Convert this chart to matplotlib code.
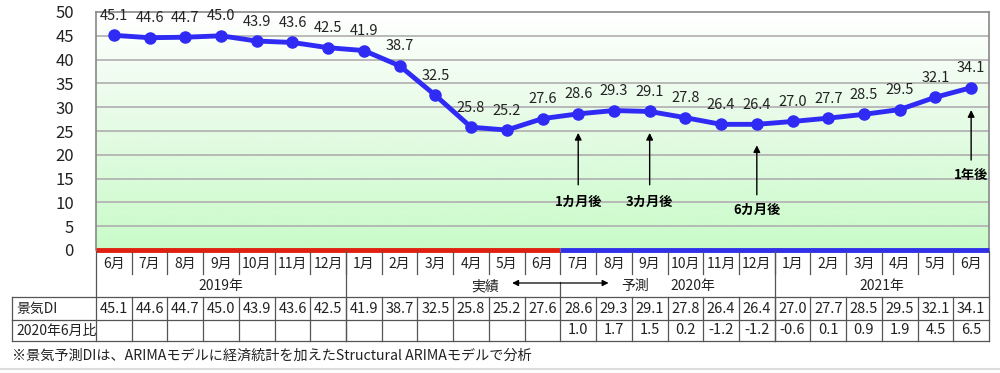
import numpy as np
import matplotlib
matplotlib.use('Agg')
import matplotlib.pyplot as plt
from matplotlib.colors import LinearSegmentedColormap

plt.rcParams['font.family'] = ['Noto Sans CJK JP', 'DejaVu Sans']

months = ['6月', '7月', '8月', '9月', '10月', '11月', '12月',
          '1月', '2月', '3月', '4月', '5月', '6月', '7月', '8月', '9月', '10月', '11月', '12月',
          '1月', '2月', '3月', '4月', '5月', '6月']
di = [45.1, 44.6, 44.7, 45.0, 43.9, 43.6, 42.5,
      41.9, 38.7, 32.5, 25.8, 25.2, 27.6, 28.6, 29.3, 29.1, 27.8, 26.4, 26.4,
      27.0, 27.7, 28.5, 29.5, 32.1, 34.1]
diff = [None] * 13 + [1.0, 1.7, 1.5, 0.2, -1.2, -1.2, -0.6, 0.1, 0.9, 1.9, 4.5, 6.5]
years = ['2019年', '2020年', '2021年']
notes = [(13, '1カ月後'), (15, '3カ月後'), (18, '6カ月後'), (24, '1年後')]
n_actual = 13  # 2019/6 .. 2020/6 are actual values

x = np.arange(len(di))
line_blue = '#2f2bf5'
grid_c = '#b4b4b4'
edge_c = '#555555'

fig = plt.figure(figsize=(10, 3.73), dpi=100)
ax = fig.add_axes([0.096, 1 - 250 / 373, 0.893, 238 / 373])

# gradient background
cmap = LinearSegmentedColormap.from_list('g', ['#c9fbc9', '#e4fbe4', '#ffffff'])
ax.imshow(np.linspace(0, 1, 256).reshape(-1, 1), extent=(-0.5, 24.5, 0, 50),
          aspect='auto', cmap=cmap, origin='lower', zorder=0)

for yv in range(5, 50, 5):
    ax.axhline(yv, color=grid_c, lw=1.3, zorder=1)

ax.plot(x, di, color=line_blue, lw=3.5, marker='o', ms=8, zorder=3)
for xi, v in zip(x, di):
    ax.annotate(f'{v:.1f}', (xi, v), xytext=(0, 14), textcoords='offset points',
                ha='center', va='center', fontsize=10.5, color='#222222', zorder=4)

# actual / forecast bar on the baseline
ax.plot([-0.5, n_actual - 0.5], [0, 0], color='#e02010', lw=3.5, clip_on=False, zorder=5,
        solid_capstyle='butt')
ax.plot([n_actual - 0.5, 24.5], [0, 0], color='#3030e8', lw=3.5, clip_on=False, zorder=5,
        solid_capstyle='butt')

arrow_pos = {13: (24.6, 13.7, 10.1), 15: (24.6, 13.7, 10.1),
             18: (22.0, 11.6, 8.4), 24: (29.4, 18.9, 15.8)}
for idx, txt in notes:
    tip, tail, ty = arrow_pos[idx]
    ax.annotate('', xy=(idx, tip), xytext=(idx, tail),
                arrowprops=dict(arrowstyle='-|>', color='black', lw=1.0,
                                mutation_scale=10, shrinkA=0, shrinkB=0))
    ax.text(idx, ty, txt, ha='center', va='center', fontsize=9.5, fontweight='bold')

ax.set_xlim(-0.5, 24.5)
ax.set_ylim(0, 50)
ax.set_yticks(range(0, 51, 5))
ax.tick_params(axis='y', length=0, pad=16, labelsize=12, labelcolor='#222222')
ax.set_xticks([])
for s in ax.spines.values():
    s.set_color('#888888')
    s.set_linewidth(1.2)
ax.spines['bottom'].set_visible(False)

# table below the chart (y in pixel units from the top)
tax = fig.add_axes([0.096, 0, 0.893, 123 / 373])
tax.set_xlim(-0.5, 24.5)
tax.set_ylim(373, 250)
tax.axis('off')
lx = (12 - 96) / (893 / 25) - 0.5
lk = dict(color=edge_c, lw=0.9, clip_on=False)
tk = dict(ha='center', va='center', fontsize=10, color='#222222')

for i, m in enumerate(months):
    tax.text(i, 264, m, **tk)
for b in range(1, 25):
    tax.plot([b - 0.5, b - 0.5], [252, 274], **lk)
    tax.plot([b - 0.5, b - 0.5], [297, 341], **lk)
for b in [-0.5, 6.5, 18.5, 24.5]:
    tax.plot([b, b], [251, 341], **lk)
tax.plot([12.5, 12.5], [282, 297], **lk)

tax.text(3, 286, years[0], **tk)
tax.text(16.2, 286, years[1], **tk)
tax.text(21.5, 286, years[2], **tk)
tax.text(10.4, 286, '実績', **tk)
tax.text(14.6, 286, '予測', **tk)
tax.annotate('', xy=(11.15, 283), xytext=(13.85, 283),
             arrowprops=dict(arrowstyle='<|-|>', color='black', lw=0.9,
                             mutation_scale=9, shrinkA=0, shrinkB=0))

for yl in [297, 320, 341]:
    tax.plot([lx, 24.5], [yl, yl], **lk)
tax.plot([lx, lx], [297, 341], **lk)
tax.text(lx + 0.12, 309, '景気DI', ha='left', va='center', fontsize=10, color='#222222')
tax.text(lx + 0.12, 330.5, '2020年6月比', ha='left', va='center', fontsize=10, color='#222222')
nk = dict(tk, fontsize=10.5)
for i, v in enumerate(di):
    tax.text(i, 309, f'{v:.1f}', **nk)
for i, v in enumerate(diff):
    if v is not None:
        tax.text(i, 330.5, f'{v:.1f}', **nk)

tax.text(lx, 356, '※景気予測DIは、ARIMAモデルに経済統計を加えたStructural ARIMAモデルで分析',
         ha='left', va='center', fontsize=10.2, color='#222222')
tax.plot([-3.2, 25], [369, 369], color='#dddddd', lw=1.5, clip_on=False)

fig.savefig('out.png', dpi=100)
